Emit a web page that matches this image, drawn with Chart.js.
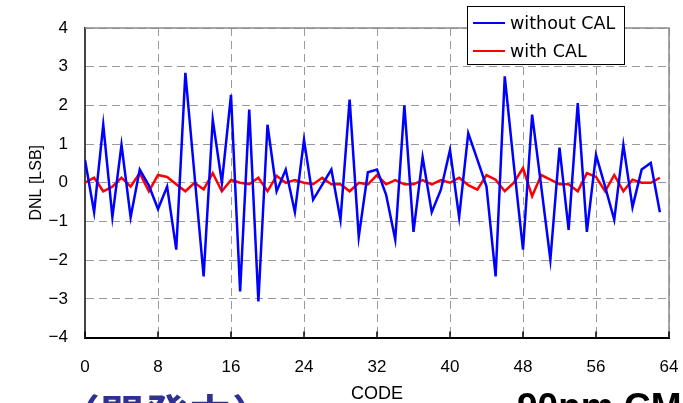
<!DOCTYPE html>
<html>
<head>
<meta charset="utf-8">
<script src="https://cdn.jsdelivr.net/npm/chart.js@4/dist/chart.umd.min.js"></script>
<style>
  html, body { margin: 0; padding: 0; background: #fff; }
  #wrap { width: 683px; height: 403px; overflow: hidden; }
</style>
</head>
<body>
<div id="wrap"><canvas id="dnlGraph" width="683" height="403"></canvas></div>
<script>
// code index on the x axis
const codes = [0, 1, 2, 3, 4, 5, 6, 7, 8, 9, 10, 11, 12, 13, 14, 15,
    16, 17, 18, 19, 20, 21, 22, 23, 24, 25, 26, 27, 28, 29, 30, 31,
    32, 33, 34, 35, 36, 37, 38, 39, 40, 41, 42, 43, 44, 45, 46, 47,
    48, 49, 50, 51, 52, 53, 54, 55, 56, 57, 58, 59, 60, 61, 62, 63]

// DNL [LSB]
const withoutCal = [0.59, -0.76, 1.5, -0.89, 0.98, -0.89, 0.34, -0.07, -0.68, -0.1,
    -1.73, 2.84, 0.2, -2.42, 1.63, 0, 2.27, -2.81, 1.89, -3.07,
    1.5, -0.22, 0.34, -0.76, 1.11, -0.44, -0.05, 0.34, -0.96, 2.15,
    -1.4, 0.27, 0.34, -0.31, -1.47, 2.0, -1.27, 0.66, -0.76, -0.18,
    0.85, -0.89, 1.28, 0.6, -0.1, -2.42, 2.75, 0.45, -1.73, 1.76,
    -0.1, -1.99, 0.91, -1.22, 2.06, -1.27, 0.72, -0.1, -0.96, 0.98,
    -0.63, 0.34, 0.51, -0.76]

const withCal = [0, 0.13, -0.22, -0.1, 0.13, -0.1, 0.25, -0.22, 0.2, 0.15,
    -0.04, -0.22, 0, -0.17, 0.25, -0.22, 0.07, 0, -0.04, 0.13,
    -0.22, 0.18, 0, 0.07, 0, -0.04, 0.13, -0.04, -0.04, -0.22,
    0, -0.04, 0.2, -0.04, 0.07, -0.04, -0.04, 0.07, -0.04, 0.07,
    0, 0.13, -0.06, -0.18, 0.2, 0.08, -0.22, 0, 0.38, -0.35,
    0.2, 0.08, -0.04, -0.04, -0.22, 0.25, 0.15, -0.22, 0.2, -0.22,
    0.08, 0, 0, 0.13]

const xTicks = [0, 8, 16, 24, 32, 40, 48, 56, 64]
const yTicks = [-4, -3, -2, -1, 0, 1, 2, 3, 4]

const tickFont = { family: "'Liberation Sans', Arial, sans-serif", size: 17 }

// frame, inner ticks, legend box and the cut-off slide captions
const decorations = {
    id: 'decorations',
    afterDraw(chart) {
        const ctx = chart.ctx
        const area = chart.chartArea
        const xs = chart.scales.x
        ctx.save()

        ctx.strokeStyle = '#8a8a8a'
        ctx.lineWidth = 1.5
        ctx.beginPath()
        ctx.moveTo(area.left, area.top)
        ctx.lineTo(area.right, area.top)
        ctx.lineTo(area.right, area.bottom)
        ctx.stroke()

        ctx.strokeStyle = '#000'
        ctx.lineWidth = 1.5
        xs.ticks.forEach(t => {
            const px = xs.getPixelForValue(t.value)
            ctx.beginPath()
            ctx.moveTo(px, area.bottom)
            ctx.lineTo(px, area.bottom - 6)
            ctx.stroke()
        })

        // legend
        const bx = 467, by = 6, bw = 157, bh = 58
        ctx.fillStyle = '#fff'
        ctx.fillRect(bx, by, bw, bh)
        ctx.strokeStyle = '#000'
        ctx.lineWidth = 1
        ctx.strokeRect(bx + 0.5, by + 0.5, bw, bh)
        ctx.font = "17.5px 'DejaVu Sans', sans-serif"
        ctx.textBaseline = 'middle'
        ctx.textAlign = 'left'
        chart.data.datasets.forEach((ds, i) => {
            const ly = 23 + i * 28
            ctx.strokeStyle = ds.borderColor
            ctx.lineWidth = 2
            ctx.beginPath()
            ctx.moveTo(473, ly)
            ctx.lineTo(505, ly)
            ctx.stroke()
            ctx.fillStyle = '#000'
            ctx.fillText(ds.label, 510, ly + 1)
        })

        // slide text under the chart, cut by the picture edge
        ctx.textBaseline = 'alphabetic'
        ctx.fillStyle = '#2E3192'
        ctx.font = "bold 44px 'Noto Sans CJK JP', sans-serif"
        ctx.fillText('（開発中）', 56, 432)
        ctx.fillStyle = '#000'
        ctx.font = "bold 37px 'Liberation Sans', Arial, sans-serif"
        ctx.fillText('90nm CMOS', 517, 419)

        ctx.restore()
    }
}

const dnlChart = new Chart(
    document.getElementById('dnlGraph'),
    {
        type: 'line',
        data: {
            datasets: [
                {
                    label: 'without CAL',
                    borderColor: '#0000FF',
                    backgroundColor: '#0000FF',
                    borderWidth: 2.5,
                    data: codes.map((c, i) => ({ x: c, y: withoutCal[i] })),
                },
                {
                    label: 'with CAL',
                    borderColor: '#FF0000',
                    backgroundColor: '#FF0000',
                    borderWidth: 2.5,
                    data: codes.map((c, i) => ({ x: c, y: withCal[i] })),
                },
            ],
        },
        options: {
            responsive: false,
            animation: false,
            devicePixelRatio: 1,
            layout: { padding: { top: 28, right: 14, left: 0, bottom: 0 } },
            elements: {
                point: { radius: 0 },
                line: { tension: 0 },
            },
            scales: {
                x: {
                    type: 'linear',
                    min: 0,
                    max: 64,
                    afterBuildTicks: scale => { scale.ticks = xTicks.map(v => ({ value: v })) },
                    afterFit: scale => {
                        scale.height = 65.5
                        scale.paddingLeft = 0
                        scale.paddingRight = 0
                    },
                    grid: { color: '#9a9a9a', lineWidth: 1, drawTicks: false },
                    border: { color: '#000', width: 2, dash: [8, 5] },
                    ticks: {
                        padding: 20,
                        maxRotation: 0,
                        color: '#000',
                        font: tickFont,
                    },
                    title: {
                        display: true,
                        text: 'CODE',
                        color: '#000',
                        padding: 0,
                        font: { family: "'Liberation Sans', Arial, sans-serif", size: 18, lineHeight: 1 },
                    },
                },
                y: {
                    min: -4,
                    max: 4,
                    afterBuildTicks: scale => { scale.ticks = yTicks.map(v => ({ value: v })) },
                    afterFit: scale => { scale.width = 85 },
                    grid: { color: '#9a9a9a', lineWidth: 1, drawTicks: false },
                    border: { color: '#444', width: 2, dash: [8, 5] },
                    ticks: {
                        padding: 17,
                        color: '#000',
                        font: tickFont,
                        callback: v => String(v).replace('-', '\u2212'),
                    },
                    title: {
                        display: true,
                        text: 'DNL [LSB]',
                        color: '#000',
                        padding: { top: 27, bottom: 0 },
                        font: { family: "'Liberation Sans', Arial, sans-serif", size: 16 },
                    },
                },
            },
            plugins: {
                legend: { display: false },
                tooltip: { enabled: false },
            },
        },
        plugins: [decorations],
    }
);
</script>
</body>
</html>
